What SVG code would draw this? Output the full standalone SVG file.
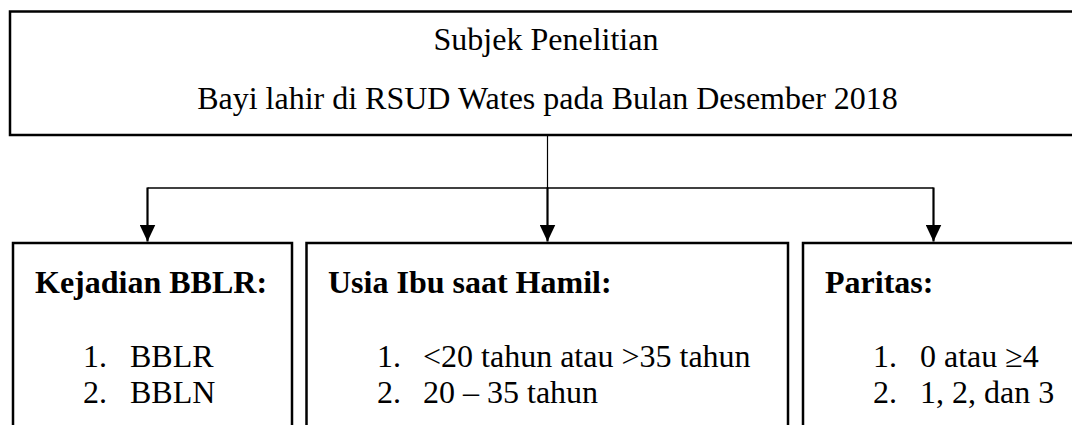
<svg xmlns="http://www.w3.org/2000/svg" width="1072" height="425" viewBox="0 0 1072 425">
  <style>
    .box { fill: #ffffff; stroke: #000000; stroke-width: 2.5; }
    .txt { font-family: "Liberation Serif", "Times New Roman", serif; font-size: 32px; fill: #000000; }
    .head { font-weight: bold; }
    .line { stroke: #000000; fill: none; }
  </style>
  <defs>
    <marker id="arrow" markerUnits="userSpaceOnUse" markerWidth="18" markerHeight="16" refX="17" refY="8" orient="auto">
      <path d="M0,0 L17,8 L0,16 Z" fill="#000000"/>
    </marker>
  </defs>
  <rect width="1072" height="425" fill="#ffffff"/>

  <!-- research subject -->
  <g id="subjek">
    <rect class="box" x="10" y="11.5" width="1080" height="123.5"/>
    <text class="txt" x="546" y="50" text-anchor="middle">Subjek Penelitian</text>
    <text class="txt" x="547.5" y="109" text-anchor="middle">Bayi lahir di RSUD Wates pada Bulan Desember 2018</text>
  </g>

  <!-- connectors -->
  <g id="connectors">
    <line class="line" x1="547.5" y1="135" x2="547.5" y2="188" stroke-width="1.2"/>
    <line class="line" x1="147.5" y1="188" x2="933.5" y2="188" stroke-width="1.6"/>
    <line class="line" x1="147.5" y1="187.5" x2="147.5" y2="241.5" stroke-width="2.2" marker-end="url(#arrow)"/>
    <line class="line" x1="547.5" y1="187.5" x2="547.5" y2="241.5" stroke-width="2.2" marker-end="url(#arrow)"/>
    <line class="line" x1="933.5" y1="187.5" x2="933.5" y2="241.5" stroke-width="2.2" marker-end="url(#arrow)"/>
  </g>

  <!-- low birth weight -->
  <g id="bblr">
    <rect class="box" x="13" y="243" width="279" height="200"/>
    <text class="txt head" x="35" y="293">Kejadian BBLR:</text>
    <text class="txt" x="83" y="367">1.</text>
    <text class="txt" x="130" y="367">BBLR</text>
    <text class="txt" x="83" y="403">2.</text>
    <text class="txt" x="130" y="403">BBLN</text>
  </g>

  <!-- maternal age -->
  <g id="usia-ibu">
    <rect class="box" x="306.5" y="243" width="481.5" height="200"/>
    <text class="txt head" x="328" y="293">Usia Ibu saat Hamil:</text>
    <text class="txt" x="377" y="367">1.</text>
    <text class="txt" x="423" y="367">&lt;20 tahun atau &gt;35 tahun</text>
    <text class="txt" x="377" y="403">2.</text>
    <text class="txt" x="423" y="403">20 – 35 tahun</text>
  </g>

  <!-- parity -->
  <g id="paritas">
    <rect class="box" x="803" y="243" width="300" height="200"/>
    <text class="txt head" x="825" y="293">Paritas:</text>
    <text class="txt" x="873" y="367">1.</text>
    <text class="txt" x="920" y="367">0 atau ≥4</text>
    <text class="txt" x="873" y="403">2.</text>
    <text class="txt" x="920" y="403">1, 2, dan 3</text>
  </g>
</svg>
